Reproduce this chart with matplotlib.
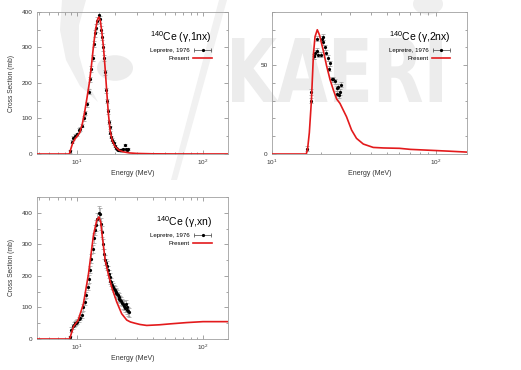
import numpy as np
import matplotlib
matplotlib.use("Agg")
import matplotlib.pyplot as plt
from matplotlib.textpath import TextPath
from matplotlib.patches import PathPatch, Circle, Polygon
from matplotlib.font_manager import FontProperties
from matplotlib.ticker import MultipleLocator, LogLocator, NullFormatter
from matplotlib.legend_handler import HandlerErrorbar
import matplotlib.transforms as mtrans

plt.rcParams['font.family'] = ['Liberation Sans', 'DejaVu Sans']
plt.rcParams['mathtext.fontset'] = 'custom'
plt.rcParams['mathtext.rm'] = 'Liberation Sans'

# ---- (g,1nx) ----
e1_calc = [4.8, 8.7, 8.75, 9.2, 9.6, 10.0, 10.5, 11.0, 11.5, 12.0, 12.5, 13.0, 13.5, 14.0, 14.5, 14.9,
           15.3, 15.7, 16.2, 16.7, 17.2, 17.7, 18.3, 19.0, 20.0, 21.5, 23.3, 26, 30, 40, 60, 100, 160]
s1_calc = [0, 0, 5, 30, 42, 50, 60, 85, 120, 160, 200, 250, 305, 350, 378, 386,
           375, 345, 300, 240, 175, 115, 65, 38, 21, 11, 6, 3, 1.5, 0.5, 0.2, 0.1, 0.1]
e1_exp = [8.7, 9.1, 9.3, 9.6, 9.9, 10.3, 10.6, 10.9, 11.3, 11.6, 12.0, 12.4, 12.7, 13.0, 13.3, 13.6,
          13.9, 14.2, 14.5, 14.8, 15.1, 15.4, 15.7, 16.0, 16.3, 16.6, 16.9, 17.2, 17.5, 17.8, 18.1,
          18.4, 18.7, 19.0, 19.3, 19.6, 20.0, 20.4, 20.8, 21.3, 21.8, 22.3, 22.8, 23.3, 23.8, 24.3, 24.8, 25.3]
s1_exp = [8, 35, 45, 52, 55, 68, 70, 80, 100, 115, 140, 175, 210, 240, 270, 310,
          340, 355, 375, 392, 380, 350, 330, 300, 270, 230, 180, 150, 120, 90, 75,
          60, 48, 40, 35, 30, 22, 18, 15, 12, 12, 10, 12, 14, 25, 14, 12, 15]
d1_exp = [4, 5, 5, 5, 5, 5, 5, 5, 6, 6, 7, 7, 8, 8, 9, 9,
          10, 10, 10, 10, 10, 10, 10, 9, 9, 8, 7, 6, 6, 5, 5,
          4, 4, 4, 4, 4, 3, 3, 3, 3, 3, 3, 3, 3, 3, 3, 3, 3]

# ---- (g,2nx) ----
e2_calc = [10, 16.2, 16.5, 16.9, 17.4, 17.9, 18.3, 18.9, 19.5, 20.6, 21.5, 22.6, 23.7, 24.8, 26.0,
           27.3, 28.5, 30.6, 32.8, 36.1, 41.5, 48, 60, 70, 87, 120, 160]
s2_calc = [0, 0, 3, 12, 30, 56, 66, 70, 67, 58, 50, 42, 36, 31, 28.5,
           24.5, 21, 13.5, 8.8, 5.6, 3.7, 3.4, 3.2, 2.6, 2.2, 1.6, 1.0]
e2_exp = [16.3, 17.3, 17.4, 18.0, 18.1, 18.3, 18.7, 18.9, 19.1, 19.8, 20.1, 20.5, 20.6, 21.0, 21.5,
          22.0, 22.4, 22.6, 23.1, 23.6, 24.2, 24.8, 25.0, 25.4, 25.7, 26.0, 26.3]
s2_exp = [3, 30, 35, 55, 55, 57, 58, 65, 56, 56, 65, 66, 63, 60, 57,
          54, 48, 51, 42, 42, 41, 37, 34, 38, 33, 35, 39]
d2_exp = [1.5] * len(e2_exp)

# ---- (g,xn) ----
e3_calc = [4.8, 8.7, 8.8, 9.35, 10.2, 11.2, 12.3, 13.5, 14.3, 14.9, 15.4, 15.9, 16.7, 17.7, 18.8,
           20.6, 22.6, 24.8, 26.5, 28.8, 31.6, 35.7, 45, 55, 74, 100, 130, 160]
s3_calc = [0, 0, 5, 39, 60, 110, 205, 330, 375, 387, 370, 320, 250, 205, 165,
           118, 80, 60, 54, 50, 46, 43, 45, 48, 52, 55, 55, 55]
e3_exp = [8.7, 9.0, 9.2, 9.4, 9.6, 9.8, 10.0, 10.3, 10.6, 10.9, 11.2, 11.5, 11.8, 12.1, 12.4, 12.7,
          13.0, 13.3, 13.6, 13.9, 14.2, 14.5, 14.8, 15.1, 15.4, 15.7, 16.0, 16.3, 16.6, 16.9, 17.2,
          17.5, 17.8, 18.1, 18.4, 18.7, 19.0, 19.3, 19.6, 19.9, 20.2, 20.5, 20.8, 21.1, 21.4, 21.7,
          22.0, 22.3, 22.7, 23.1, 23.5, 23.9, 24.3, 24.7, 25.1, 25.5, 26.0]
s3_exp = [5, 30, 40, 45, 50, 52, 55, 62, 68, 75, 100, 118, 140, 165, 190, 220,
          255, 285, 320, 345, 360, 380, 400, 395, 365, 340, 300, 270, 250, 240, 232,
          218, 205, 195, 185, 180, 172, 166, 160, 156, 150, 145, 142, 138, 133, 128,
          125, 120, 115, 110, 105, 98, 110, 92, 100, 88, 85]
d3_exp = [5, 8, 8, 8, 8, 8, 8, 8, 9, 9, 10, 10, 10, 10, 12, 12,
          14, 14, 15, 16, 18, 20, 20, 20, 18, 18, 16, 15, 15, 15, 14,
          14, 13, 13, 12, 12, 12, 12, 12, 12, 12, 12, 12, 12, 12, 12,
          12, 12, 12, 14, 14, 14, 14, 14, 14, 14, 14]

W, H = 521, 370
fig = plt.figure(figsize=(W / 100, H / 100), dpi=100)

# ---- KAERI watermark (drawn behind) ----
wm = '#ececec'
def px(x0, y0):
    return (x0 / W, 1 - y0 / H)
tp = TextPath((0, 0), 'KAERI', size=1, prop=FontProperties(family='DejaVu Sans', weight='bold'))
ext = tp.get_extents()
tr = (mtrans.Affine2D().translate(-ext.x0, -ext.y0)
      .scale(210 / ext.width / W, 64 / ext.height / H)
      .translate(232 / W, 1 - 102 / H) + fig.transFigure)
fig.patches.append(PathPatch(tp, transform=tr, fc=wm, ec='none', zorder=-5))
fig.patches.append(Circle(px(115, 68), 18 / W, transform=fig.transFigure, fc='#ececec', ec='none', zorder=-5))
fig.patches.append(Circle(px(428, 4), 15 / W, transform=fig.transFigure, fc='#efefef', ec='none', zorder=-5))
cres = [(62, 0), (60, 30), (66, 60), (80, 86), (98, 102), (86, 80), (79, 55), (79, 25), (86, 0)]
fig.patches.append(Polygon([px(a, b) for a, b in cres], transform=fig.transFigure, fc='#efefef', ec='none', zorder=-5))
band = [(219, 0), (227, 0), (177, 180), (171, 180)]
fig.patches.append(Polygon([px(a, b) for a, b in band], transform=fig.transFigure, fc='#f1f1f1', ec='none', zorder=-5))

red = '#e31a1c'
frame = '#a0a0a0'


def panel(rect, ec, sc, ee, se, de, title, xlim, ylim, ymaj, ymin, ylabel=True, ecol='#9a9a9a'):
    ax = fig.add_axes(rect)
    ax.patch.set_alpha(0)
    ax.errorbar(ee, se, yerr=de, fmt='o', ms=1.3, color='black', ecolor=ecol,
                elinewidth=0.5, capsize=1.2, capthick=0.5, zorder=3)
    ax.plot(ec, sc, color=red, lw=1.2, zorder=4)
    # legend proxies
    h_exp = ax.errorbar([np.nan], [np.nan], xerr=[1], fmt='o', ms=1.3, color='black', ecolor='#404040',
                        elinewidth=0.5, capsize=1.5, capthick=0.5)
    h_calc, = ax.plot([np.nan], [np.nan], color=red, lw=1.2)
    ax.set_xscale('log')
    ax.set_xlim(*xlim)
    ax.set_ylim(*ylim)
    ax.yaxis.set_major_locator(MultipleLocator(ymaj))
    ax.yaxis.set_minor_locator(MultipleLocator(ymin))
    ax.xaxis.set_major_locator(LogLocator(base=10))
    ax.xaxis.set_minor_locator(LogLocator(base=10, subs=np.arange(2, 10)))
    ax.xaxis.set_minor_formatter(NullFormatter())
    for s in ax.spines.values():
        s.set_color(frame)
        s.set_linewidth(0.6)
    ax.tick_params(which='both', direction='in', top=True, right=True, color='#808080',
                   labelsize=4.6, labelcolor='#333333', width=0.5)
    ax.tick_params(which='major', length=3, pad=3)
    ax.tick_params(which='minor', length=1.8)
    ax.set_xlabel('Energy (MeV)', fontsize=5, color='#333333', labelpad=2)
    if ylabel:
        ax.set_ylabel('Cross Section (mb)', fontsize=4.8, color='#333333', labelpad=5)
    ax.text(0.915, 0.825, title, transform=ax.transAxes, ha='right', va='center',
            fontsize=7.5, color='black')
    ax.legend([h_exp, h_calc], ['Lepretre, 1976', 'Present'],
              handler_map={type(h_exp): HandlerErrorbar(xerr_size=1.4)},
              loc='upper right', bbox_to_anchor=(0.915, 0.745), frameon=False, fontsize=4.4,
              markerfirst=False, handlelength=3.0, handletextpad=0.6, labelspacing=0.35,
              borderaxespad=0, borderpad=0)
    return ax


panel([37 / W, 1 - 154 / H, 191 / W, 142 / H], e1_calc, s1_calc, e1_exp, s1_exp, d1_exp,
      '$^{140}$Ce (γ,1nx)', (4.8, 158), (0, 400), 100, 50)
panel([272 / W, 1 - 154 / H, 195 / W, 142 / H], e2_calc, s2_calc, e2_exp, s2_exp, d2_exp,
      '$^{140}$Ce (γ,2nx)', (10, 155), (0, 80), 50, 10, ylabel=False)
panel([37 / W, 1 - 339 / H, 191 / W, 142 / H], e3_calc, s3_calc, e3_exp, s3_exp, d3_exp,
      '$^{140}$Ce (γ,xn)', (4.8, 158), (0, 450), 100, 50)

fig.savefig('out.png', dpi=100)
